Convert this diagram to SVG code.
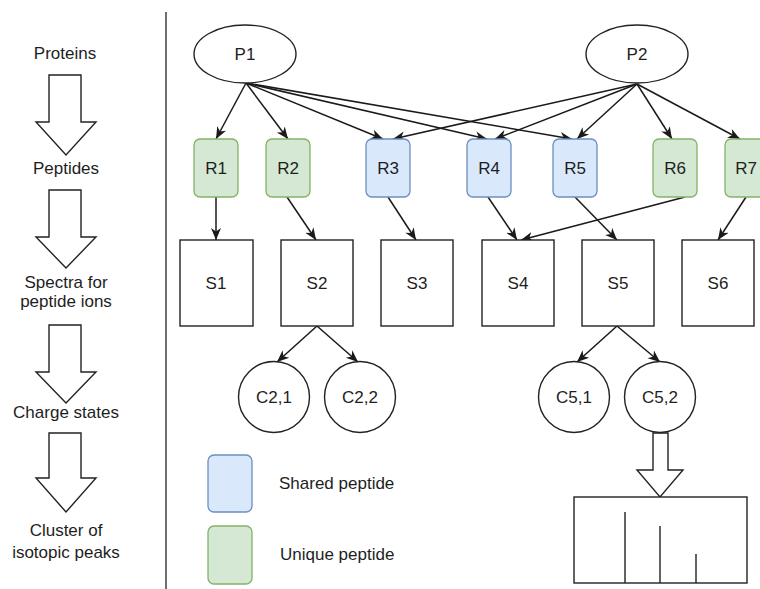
<svg xmlns="http://www.w3.org/2000/svg" width="760" height="589" viewBox="0 0 760 589">
  <style>
    text { font-family: "Liberation Sans", Arial, sans-serif; font-size: 17px; fill: #1e1e1e; }
    .c { text-anchor: middle; dominant-baseline: central; }
    .l { dominant-baseline: central; }
    .shape { fill: #ffffff; stroke: #222222; stroke-width: 1.4; }
    .shared { fill: #dae8fc; stroke: #6c8ebf; stroke-width: 1.3; }
    .unique { fill: #d5e8d4; stroke: #82b366; stroke-width: 1.3; }
    .edge { fill: none; stroke: #1a1a1a; stroke-width: 1.5; marker-end: url(#arrow); }
    .block { fill: #ffffff; stroke: #222222; stroke-width: 1.4; stroke-linejoin: miter; }
    .peak { stroke: #222222; stroke-width: 1.4; }
  </style>
  <defs>
    <marker id="arrow" markerUnits="userSpaceOnUse" markerWidth="13" markerHeight="12" refX="12" refY="6" orient="auto">
      <path d="M0,1 L12,6 L0,11 L3.5,6 Z" fill="#1a1a1a"/>
    </marker>
  </defs>

  <rect width="760" height="589" fill="#ffffff"/>

  <!-- left column: stage labels and block arrows -->
  <g id="stages">
    <text class="c" x="65" y="53">Proteins</text>
    <path class="block" d="M49,75 H81 V122 H96 L66,155 L36,122 H49 Z"/>
    <text class="c" x="66" y="168">Peptides</text>
    <path class="block" d="M49,190 H81 V237 H96 L66,268 L36,237 H49 Z"/>
    <text class="c" x="66" y="282">Spectra for</text>
    <text class="c" x="66" y="301">peptide ions</text>
    <path class="block" d="M49,325 H81 V372 H96 L66,403 L36,372 H49 Z"/>
    <text class="c" x="66" y="412">Charge states</text>
    <path class="block" d="M49,433 H81 V478 H96 L66,512 L36,478 H49 Z"/>
    <text class="c" x="66" y="530">Cluster of</text>
    <text class="c" x="66" y="552">isotopic peaks</text>
  </g>

  <!-- divider -->
  <line x1="166" y1="12" x2="166" y2="589" stroke="#333333" stroke-width="1.4"/>

  <!-- connectors -->
  <g id="connectors">
    <line class="edge" x1="246" y1="83" x2="216" y2="139"/>
    <line class="edge" x1="246" y1="83" x2="288" y2="139"/>
    <line class="edge" x1="246" y1="83" x2="383" y2="139"/>
    <line class="edge" x1="246" y1="83" x2="487" y2="139"/>
    <line class="edge" x1="246" y1="83" x2="572" y2="139"/>
    <line class="edge" x1="637" y1="84" x2="393" y2="139"/>
    <line class="edge" x1="637" y1="84" x2="495" y2="139"/>
    <line class="edge" x1="637" y1="84" x2="577" y2="139"/>
    <line class="edge" x1="637" y1="84" x2="672" y2="139"/>
    <line class="edge" x1="637" y1="84" x2="740" y2="139"/>

    <line class="edge" x1="216" y1="197" x2="216" y2="240"/>
    <line class="edge" x1="287" y1="197" x2="316" y2="240"/>
    <line class="edge" x1="388" y1="197" x2="416" y2="240"/>
    <line class="edge" x1="488" y1="197" x2="517" y2="240"/>
    <line class="edge" x1="685" y1="197" x2="521" y2="240"/>
    <line class="edge" x1="575" y1="197" x2="617" y2="240"/>
    <line class="edge" x1="746" y1="197" x2="718" y2="240"/>

    <line class="edge" x1="317" y1="326" x2="277" y2="362"/>
    <line class="edge" x1="317" y1="326" x2="358" y2="362"/>
    <line class="edge" x1="617" y1="326" x2="577" y2="362"/>
    <line class="edge" x1="617" y1="326" x2="660" y2="362"/>

    <path class="block" d="M653,433 H668 V470 H683 L660,497 L637,470 H653 Z"/>
  </g>

  <!-- proteins -->
  <g id="P1"><ellipse class="shape" cx="245" cy="54" rx="51" ry="29"/><text class="c" x="245" y="54">P1</text></g>
  <g id="P2"><ellipse class="shape" cx="637" cy="54" rx="51" ry="29"/><text class="c" x="637" y="54">P2</text></g>

  <!-- peptides -->
  <g id="R1"><rect class="unique" x="194" y="139" width="44" height="58" rx="6"/><text class="c" x="216" y="168">R1</text></g>
  <g id="R2"><rect class="unique" x="266" y="139" width="44" height="58" rx="6"/><text class="c" x="288" y="168">R2</text></g>
  <g id="R3"><rect class="shared" x="366" y="139" width="44" height="58" rx="6"/><text class="c" x="388" y="168">R3</text></g>
  <g id="R4"><rect class="shared" x="467" y="139" width="44" height="58" rx="6"/><text class="c" x="489" y="168">R4</text></g>
  <g id="R5"><rect class="shared" x="553" y="139" width="44" height="58" rx="6"/><text class="c" x="575" y="168">R5</text></g>
  <g id="R6"><rect class="unique" x="653" y="139" width="44" height="58" rx="6"/><text class="c" x="675" y="168">R6</text></g>
  <g id="R7"><rect class="unique" x="725" y="139" width="44" height="58" rx="6"/><text class="c" x="746" y="168">R7</text></g>

  <!-- spectra -->
  <g id="S1"><rect class="shape" x="180" y="240" width="73" height="86"/><text class="c" x="216" y="283">S1</text></g>
  <g id="S2"><rect class="shape" x="281" y="240" width="72" height="86"/><text class="c" x="317" y="283">S2</text></g>
  <g id="S3"><rect class="shape" x="381" y="240" width="72" height="86"/><text class="c" x="417" y="283">S3</text></g>
  <g id="S4"><rect class="shape" x="482" y="240" width="72" height="86"/><text class="c" x="518" y="283">S4</text></g>
  <g id="S5"><rect class="shape" x="582" y="240" width="72" height="86"/><text class="c" x="618" y="283">S5</text></g>
  <g id="S6"><rect class="shape" x="682" y="240" width="72" height="86"/><text class="c" x="718" y="283">S6</text></g>

  <!-- charge states -->
  <g id="C21"><circle class="shape" cx="274" cy="397" r="35.5"/><text class="c" x="274" y="397">C2,1</text></g>
  <g id="C22"><circle class="shape" cx="360" cy="397" r="35.5"/><text class="c" x="360" y="397">C2,2</text></g>
  <g id="C51"><circle class="shape" cx="574" cy="397" r="35.5"/><text class="c" x="574" y="397">C5,1</text></g>
  <g id="C52"><circle class="shape" cx="660" cy="397" r="35.5"/><text class="c" x="660" y="397">C5,2</text></g>

  <!-- isotopic peak cluster -->
  <g id="cluster">
    <rect class="shape" x="574" y="497" width="173" height="86"/>
    <line class="peak" x1="625" y1="512" x2="625" y2="583"/>
    <line class="peak" x1="660" y1="526" x2="660" y2="583"/>
    <line class="peak" x1="696" y1="554" x2="696" y2="583"/>
  </g>

  <!-- legend -->
  <g id="legend">
    <rect class="shared" x="208" y="455" width="44" height="57" rx="6"/>
    <text class="l" x="279" y="483">Shared peptide</text>
    <rect class="unique" x="208" y="526" width="44" height="58" rx="6"/>
    <text class="l" x="280" y="554">Unique peptide</text>
  </g>
</svg>
